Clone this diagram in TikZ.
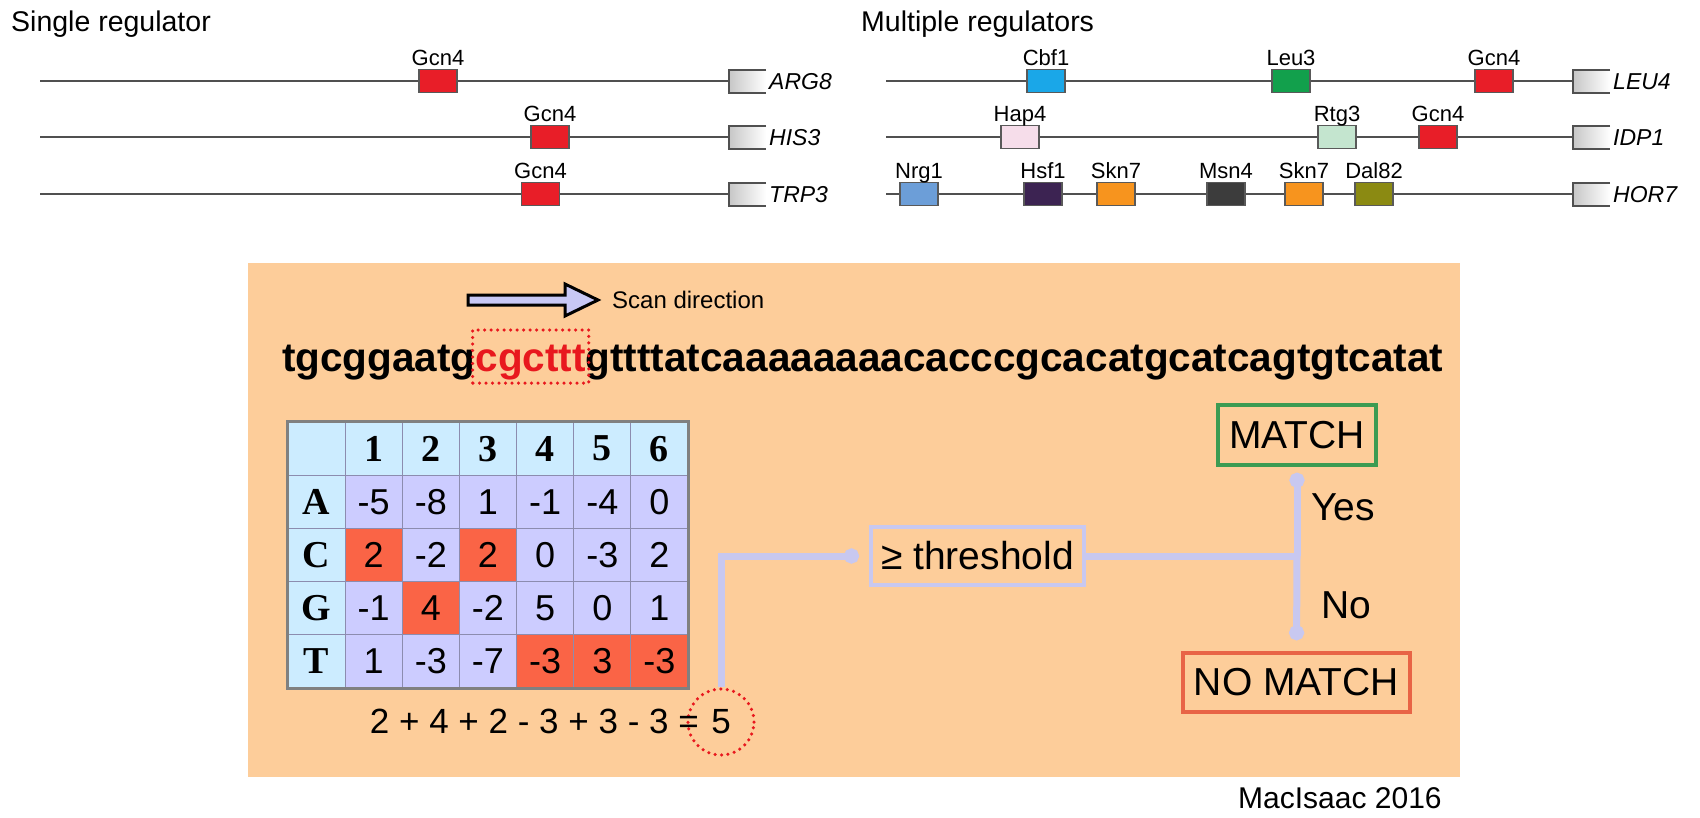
\documentclass[tikz,border=0pt]{standalone}
\usepackage{fontspec}
\setmainfont{Liberation Sans}
\newfontfamily\tnr{Liberation Serif}
\usetikzlibrary{arrows.meta,calc}

\definecolor{panelc}{RGB}{253,205,154}
\definecolor{lavc}{RGB}{200,200,240}
\definecolor{arrowlav}{RGB}{200,200,245}
\definecolor{seqred}{RGB}{232,24,30}
\definecolor{tH}{RGB}{204,236,255}
\definecolor{tL}{RGB}{204,204,255}
\definecolor{tR}{RGB}{250,100,70}
\definecolor{gridc}{RGB}{140,140,175}
\definecolor{matchg}{RGB}{60,155,82}
\definecolor{nomatchr}{RGB}{232,100,70}
\definecolor{dnac}{RGB}{80,80,80}
\definecolor{gcnred}{RGB}{232,30,40}
\definecolor{cbfblue}{RGB}{26,167,232}
\definecolor{leugreen}{RGB}{18,160,76}
\definecolor{happink}{RGB}{246,221,234}
\definecolor{rtggreen}{RGB}{196,229,207}
\definecolor{nrgblue}{RGB}{108,158,216}
\definecolor{hsfpurple}{RGB}{60,35,82}
\definecolor{sknorange}{RGB}{247,148,30}
\definecolor{msngrey}{RGB}{60,60,60}
\definecolor{dalolive}{RGB}{139,138,18}

\newcommand\fsz[1]{\fontsize{#1}{#1}\selectfont}

\begin{document}
\begin{tikzpicture}[x=1pt,y=-1pt,
  title/.style={font=\fsz{28.5}, inner sep=0},
  dna/.style={draw=dnac, line width=2},
  gline/.style={draw=dnac, line width=2},
  genebox/.style={minimum width=37, minimum height=23, inner sep=0, outer sep=0, left color=black!22, right color=white},
  gname/.style={font=\fsz{23}\itshape, inner sep=0},
  tf/.style={draw=black!65, line width=1.2, minimum width=38, minimum height=23, inner sep=0},
  tflabel/.style={font=\fsz{22}, inner sep=0},
  seq/.style={font=\fsz{40.5}\bfseries, inner xsep=0, inner ysep=2, outer sep=0},
  dotred/.style={draw=seqred, line width=3.5, dash pattern=on 0pt off 6.5pt, line cap=round},
  cell/.style={minimum width=57.14, minimum height=53.2, inner sep=0, draw=gridc, line width=1.2, font=\fsz{36}},
  hcell/.style={cell, fill=tH, font=\tnr\fsz{38}\bfseries},
  conn/.style={draw=lavc, line width=7},
  flow/.style={font=\fsz{39}, inner sep=0},
  dec/.style={font=\fsz{39}, inner sep=0, line width=3.5, minimum height=59}
]
\useasboundingbox (0,0) rectangle (1700,817);
\fill[white] (0,0) rectangle (1700,817);

% ---------- titles ----------
\node[title, anchor=base west] (tsingle) at (11,31) {Single regulator};
\node[title, anchor=base west] (tmulti) at (861,31) {Multiple regulators};

% ---------- DNA lines and genes ----------
\foreach \nm/\sx/\x/\y/\txt in {gA/40/747.5/81/ARG8, gB/40/747.5/137/HIS3, gC/40/747.5/194/TRP3,
                               gD/886/1591.5/81/LEU4, gE/886/1591.5/137/IDP1, gF/886/1591.5/194/HOR7}{
  \coordinate (\nm-start) at (\sx,\y);
  \node[genebox] (\nm) at (\x,\y) {};
  \draw[dna] (\nm-start) -- (\nm.west);
  \draw[gline] (\nm.north east) -- (\nm.north west) -- (\nm.south west) -- (\nm.south east);
  \node[gname, anchor=base west] (\nm-name) at ($(\nm.east)+(3,8)$) {\txt};
}

% ---------- regulator boxes ----------
\foreach \nm/\x/\y/\col/\txt in {
  l1/438/81/gcnred/Gcn4, l2/550/137/gcnred/Gcn4, l3/540.5/194/gcnred/Gcn4,
  r1/1046/81/cbfblue/Cbf1, r2/1291/81/leugreen/Leu3, r3/1494/81/gcnred/Gcn4,
  r4/1020/137/happink/Hap4, r5/1337/137/rtggreen/Rtg3, r6/1438/137/gcnred/Gcn4,
  r7/919/194/nrgblue/Nrg1, r8/1043/194/hsfpurple/Hsf1, r9/1116/194/sknorange/Skn7,
  r10/1226/194/msngrey/Msn4, r11/1304/194/sknorange/Skn7, r12/1374/194/dalolive/Dal82}{
  \node[tf, fill=\col] (\nm) at (\x,\y) {};
  \node[tflabel, anchor=base] (\nm-l) at ($(\nm.center)+(0,-16)$) {\txt};
}

% ---------- orange panel ----------
\fill[panelc] (248,263) rectangle (1460,777);

% scan arrow
\filldraw[fill=arrowlav, draw=black, line width=3, line join=miter]
  (468,295) -- (565,295) -- (565,284) -- (598,300) -- (565,316) -- (565,305) -- (468,305) -- cycle;
\node[anchor=west, font=\fsz{24}, inner sep=0] (scan) at (612,300) {Scan direction};

% sequence
\node[seq, anchor=base west] (s1) at (282,371) {tgcggaatg};
\node[seq, anchor=base west, text=seqred, text height=31, text depth=2, inner ysep=10] (s2) at (s1.base east) {cgcttt};
\node[seq, anchor=base west] (s3) at (s2.base east) {gttttatcaaaaaaaacacccgcacatgcatcagtgtcatat};
\draw[dotred] ($(s2.south west)+(-3,0)$) rectangle ($(s2.north east)+(3,0)$);

% ---------- scoring table ----------
\node[hcell] (h0) at (316.57,448.6) {};
\foreach \i in {1,...,6}{
  \node[hcell] (h\i) at ({288+57.14*(\i+0.5)},448.6) {\i};
}
\foreach \lt/\vals [count=\j] in {
   A/{-5/tL,-8/tL,1/tL,-1/tL,-4/tL,0/tL},
   C/{2/tR,-2/tL,2/tR,0/tL,-3/tL,2/tL},
   G/{-1/tL,4/tR,-2/tL,5/tL,0/tL,1/tL},
   T/{1/tL,-3/tL,-7/tL,-3/tR,3/tR,-3/tR}}{
  \node[hcell] (r\lt) at (316.57,{422+53.2*(\j+0.5)}) {\lt};
  \foreach \v/\c [count=\i] in \vals {
    \node[cell, fill=\c] (c\lt\i) at ({288+57.14*(\i+0.5)},{422+53.2*(\j+0.5)}) {\v};
  }
}
\draw[draw=black!50, line width=2.5] (h0.north west) rectangle (cT6.south east);

% ---------- sum ----------
\node[circle, dotred, minimum size=66, inner sep=0, font=\fsz{35}] (five) at (721,722) {5};
\node[font=\fsz{35}, inner sep=0, anchor=base east] (sum) at ($(five.base)+(-22,0)$) {2 + 4 + 2 - 3 + 3 - 3 =};

% ---------- decision ----------
\node[draw=lavc, line width=4, minimum width=213, minimum height=58, inner sep=0, font=\fsz{39}] (thr) at (977.5,556) {≥ threshold};
\node[dec, draw=matchg, minimum width=158, minimum height=60] (match) at (1297,435) {MATCH};
\node[dec, draw=nomatchr, minimum width=227] (nomatch) at (1296.5,682.5) {NO MATCH};
\coordinate (jn) at (1297,556);

\draw[conn, -{Circle[length=15pt]}, shorten >=10pt] (five.north) |- (thr.west);
\draw[conn] (thr.east) -- (jn);
\draw[conn, -{Circle[length=15pt]}, shorten >=6pt] (jn) -- (match.south);
\draw[conn, -{Circle[length=15pt]}, shorten >=11pt] (jn) -- (nomatch.north);

\node[flow] (yes) at (1343,507) {Yes};
\node[flow] (no) at (1346,605) {No};

% ---------- citation ----------
\node[anchor=base west, font=\fsz{30}, inner sep=0] (cite) at (1238,808) {MacIsaac 2016};
\end{tikzpicture}
\end{document}
